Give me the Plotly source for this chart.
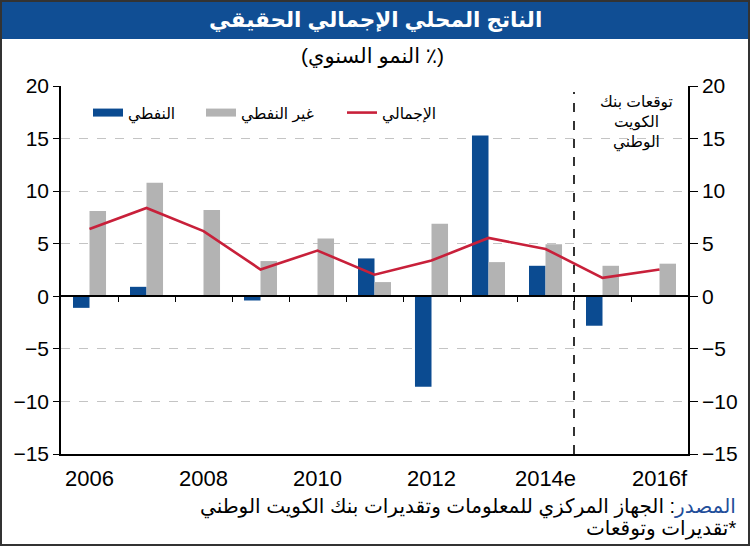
import plotly.graph_objects as go

categories = ["2006", "2007", "2008", "2009", "2010", "2011", "2012", "2013", "2014e", "2015f", "2016f"]
oil = [-1.1, 0.9, 0.05, -0.4, 0.05, 3.6, -8.6, 15.3, 2.9, -2.8, 0.0]
non_oil = [8.1, 10.8, 8.2, 3.35, 5.5, 1.35, 6.9, 3.25, 4.95, 2.9, 3.1]
total = [6.4, 8.4, 6.2, 2.55, 4.35, 2.05, 3.4, 5.55, 4.5, 1.75, 2.55]
year_labels = ["2006", "2008", "2010", "2012", "2014e", "2016f"]
y_ticks = [-15, -10, -5, 0, 5, 10, 15, 20]

name_oil = "النفطي"
name_non_oil = "غير النفطي"
name_total = "الإجمالي"

BLUE = "#0b4b91"
GRAY = "#b3b3b3"
RED = "#c8203a"
FONT = "Liberation Sans, Arial, DejaVu Sans, sans-serif"

W, H = 750, 546
L, R, T, B = 61, 62, 86, 92
PW, PH = W - L - R, H - T - B


def fx(px):
    return (px - L) / PW


def fy(py):
    return 1 - (py - T) / PH


fig = go.Figure()
fig.add_trace(go.Bar(x=categories, y=oil, name=name_oil, marker=dict(color=BLUE, line=dict(width=0)), showlegend=False))
fig.add_trace(go.Bar(x=categories, y=non_oil, name=name_non_oil, marker=dict(color=GRAY, line=dict(width=0)), showlegend=False))
fig.add_trace(go.Scatter(x=categories, y=total, name=name_total, mode="lines", line=dict(color=RED, width=2.6), showlegend=False))

# legend entries (wide swatches like the original), each in its own legend box
legend_specs = [(name_oil, BLUE, 8, "legend", 88), (name_non_oil, GRAY, 8, "legend2", 201), (name_total, RED, 2.6, "legend3", 342)]
for nm, col, w, lg, _ in legend_specs:
    fig.add_trace(go.Scatter(x=[None], y=[None], name=nm, mode="lines", line=dict(color=col, width=w),
                             xaxis="x2", yaxis="y2", showlegend=True, legend=lg))

legend_layout = {}
for _, _, _, lg, xpx in legend_specs:
    legend_layout[lg] = dict(orientation="h", x=fx(xpx), y=fy(96), xanchor="left", yanchor="top",
                             font=dict(size=15.5), bgcolor="rgba(0,0,0,0)", itemwidth=30)

fig.update_layout(
    width=W, height=H,
    margin=dict(l=L, r=R, t=T, b=B, pad=0),
    paper_bgcolor="white", plot_bgcolor="white",
    barmode="group", bargap=0.42, bargroupgap=0,
    font=dict(family=FONT, color="black", size=16),
    showlegend=True,
    **legend_layout,
    xaxis=dict(type="category", range=[-0.5, 10.5], tickmode="array", tickvals=year_labels, ticktext=year_labels,
               showline=True, linecolor="black", linewidth=1.5, ticks="", showgrid=False, zeroline=False,
               tickfont=dict(size=22), ticklabelstandoff=4),
    xaxis2=dict(type="linear", overlaying="x", anchor="free", position=15 / 35, range=[-0.5, 10.5],
                tickmode="array", tickvals=[i + 0.5 for i in range(10)], ticks="outside", ticklen=5,
                tickcolor="black", tickwidth=1.2, showline=True, linecolor="black", linewidth=1.5,
                showticklabels=False, showgrid=False, zeroline=False),
    yaxis=dict(range=[-15, 20], tickmode="array", tickvals=y_ticks, showgrid=True, gridcolor="#c4c4c4",
               griddash="dash", gridwidth=1, showline=True, linecolor="black", linewidth=1.5,
               ticks="outside", ticklen=6, tickcolor="black", zeroline=False, tickfont=dict(size=21)),
    yaxis2=dict(range=[-15, 20], overlaying="y", side="right", tickmode="array", tickvals=y_ticks,
                showgrid=False, showline=True, linecolor="black", linewidth=1.5, ticks="outside",
                ticklen=8, tickcolor="black", zeroline=False, tickfont=dict(size=21)),
)

shapes = [
    dict(type="rect", xref="paper", yref="paper", x0=fx(0), x1=fx(W), y0=fy(39), y1=fy(0),
         fillcolor="#104e94", line=dict(width=0), layer="below"),
    dict(type="rect", xref="paper", yref="paper", x0=fx(1), x1=fx(W - 1), y0=fy(H - 1), y1=fy(1),
         fillcolor="rgba(0,0,0,0)", line=dict(color="#333333", width=2), layer="above"),
    dict(type="line", xref="x", yref="paper", x0=8.5, x1=8.5, y0=0, y1=fy(92),
         line=dict(color="black", width=1.6, dash="dash"), layer="between"),
]
fig.update_layout(shapes=shapes)

annotations = [
    dict(text="<b>الناتج المحلي الإجمالي الحقيقي</b>", xref="paper", yref="paper", x=fx(375), y=fy(20),
         xanchor="center", yanchor="middle", showarrow=False, font=dict(size=21.5, color="white")),
    dict(text="(النمو السنوي ٪)", xref="paper", yref="paper", x=fx(372), y=fy(56),
         xanchor="center", yanchor="middle", showarrow=False, font=dict(size=21, color="black")),
    dict(text="توقعات بنك<br>الكويت<br>الوطني", xref="paper", yref="paper", x=fx(636), y=fy(122),
         xanchor="center", yanchor="middle", align="center", showarrow=False, font=dict(size=15.5, color="black")),
    dict(text="<span style='color:#1f4e9a'>المصدر</span>: الجهاز المركزي للمعلومات وتقديرات بنك الكويت الوطني",
         xref="paper", yref="paper", x=fx(738), y=fy(507), xanchor="right", yanchor="middle",
         showarrow=False, font=dict(size=20, color="black")),
    dict(text="تقديرات وتوقعات*", xref="paper", yref="paper", x=fx(738), y=fy(528), xanchor="right",
         yanchor="middle", showarrow=False, font=dict(size=20, color="black")),
]
fig.update_layout(annotations=annotations)

fig.write_html("out.html")
